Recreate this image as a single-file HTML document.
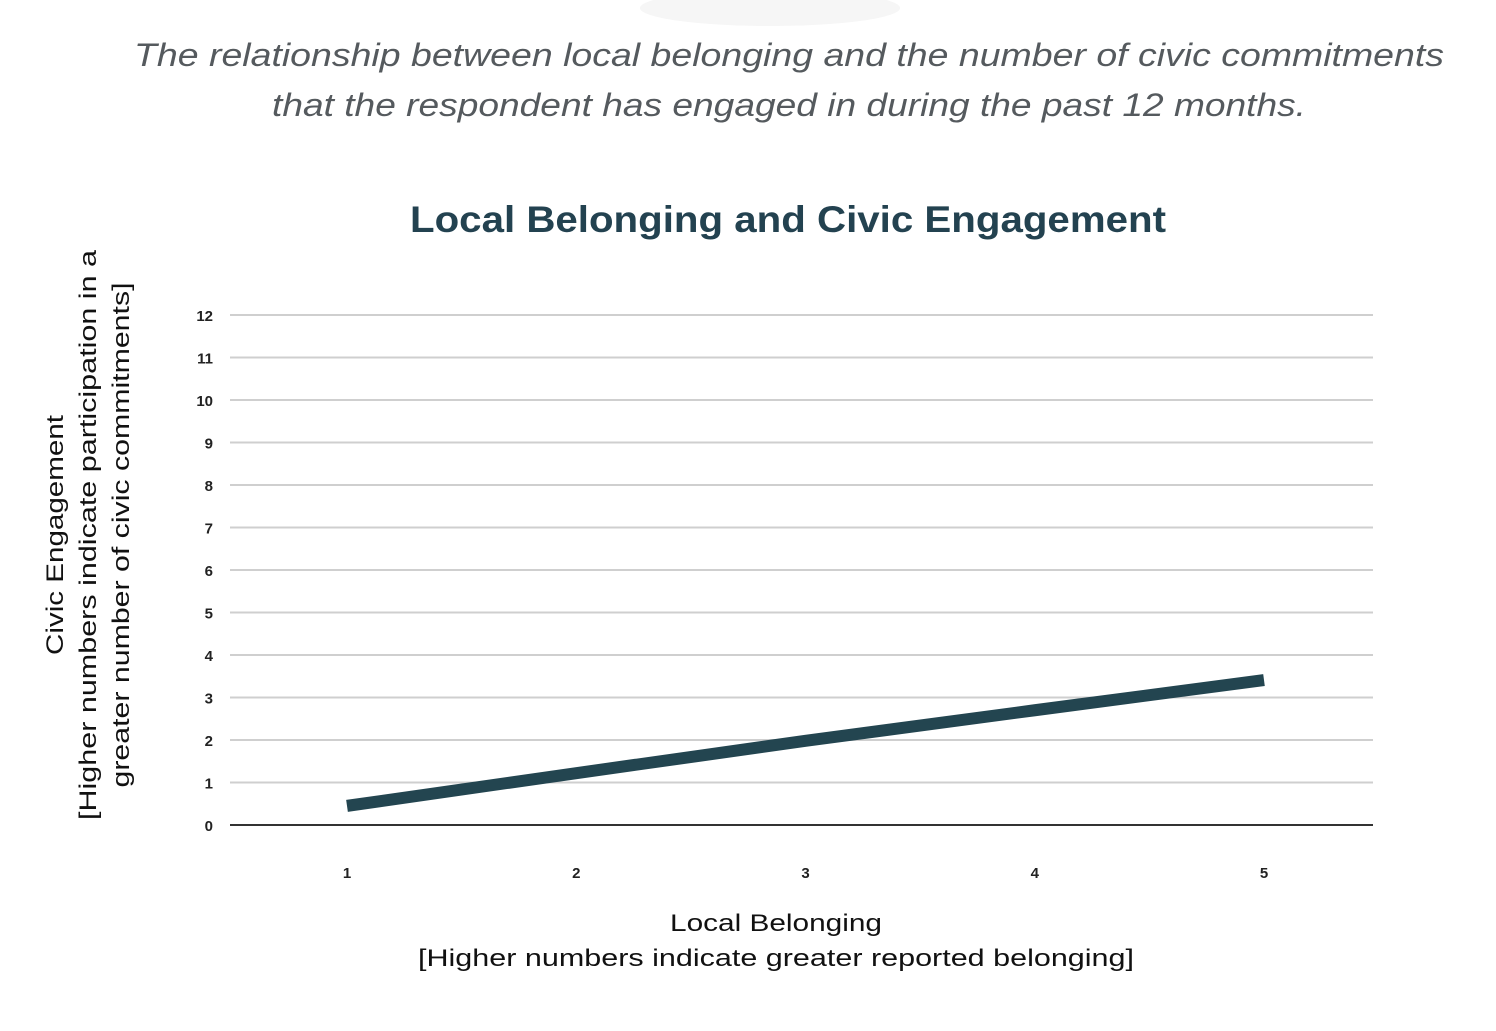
<!DOCTYPE html>
<html><head><meta charset="utf-8"><style>
body{margin:0;background:#fff;}
svg{display:block;font-family:"Liberation Sans",sans-serif;}
</style></head><body>
<svg width="1496" height="1031" viewBox="0 0 1496 1031">
<ellipse cx="770" cy="8" rx="130" ry="18" fill="#f6f6f6"/>
<text x="789" y="66" text-anchor="middle" font-size="32" font-style="italic" fill="#555a5e" textLength="1310" lengthAdjust="spacingAndGlyphs">The relationship between local belonging and the number of civic commitments</text>
<text x="789" y="116" text-anchor="middle" font-size="32" font-style="italic" fill="#555a5e" textLength="1034" lengthAdjust="spacingAndGlyphs">that the respondent has engaged in during the past 12 months.</text>
<text x="788" y="232" text-anchor="middle" font-size="37" font-weight="bold" fill="#234250" textLength="756" lengthAdjust="spacingAndGlyphs">Local Belonging and Civic Engagement</text>
<g id="grid"></g>
<g id="yticks"></g>
<g id="xticks"></g>
<g id="series"></g>
<g transform="translate(63,535) rotate(-90)">
<text x="0" y="0" text-anchor="middle" font-size="24" fill="#111" textLength="240" lengthAdjust="spacingAndGlyphs">Civic Engagement</text>
<text x="0" y="33" text-anchor="middle" font-size="24" fill="#111" textLength="570" lengthAdjust="spacingAndGlyphs">[Higher numbers indicate participation in a</text>
<text x="0" y="66" text-anchor="middle" font-size="24" fill="#111" textLength="505" lengthAdjust="spacingAndGlyphs">greater number of civic commitments]</text>
</g>
<text x="776" y="931" text-anchor="middle" font-size="24" fill="#111" textLength="212" lengthAdjust="spacingAndGlyphs">Local Belonging</text>
<text x="776" y="966" text-anchor="middle" font-size="24" fill="#111" textLength="716" lengthAdjust="spacingAndGlyphs">[Higher numbers indicate greater reported belonging]</text>
</svg>
<script>
const categories=[1,2,3,4,5];
const values=[0.45,1.22,1.98,2.7,3.41];
const yTicks=[0,1,2,3,4,5,6,7,8,9,10,11,12];
const NS="http://www.w3.org/2000/svg";
const X0=230,X1=1373,Y0=825,Y1=315;
function y(v){return Y0-(v-0)/(12-0)*(Y0-Y1);}
function x(c){return 347+(c-1)*229.25;}
function mk(t,a,p){const e=document.createElementNS(NS,t);for(const k in a)e.setAttribute(k,a[k]);document.getElementById(p).appendChild(e);return e;}
yTicks.forEach(v=>{
 const l=mk('line',{x1:X0,x2:X1,y1:y(v),y2:y(v),stroke:v===0?'#333':'#cfcfcf','stroke-width':v===0?2:2},'grid');
 
 
 const t=mk('text',{x:213,y:y(v)+6,'text-anchor':'end','font-size':15,'font-weight':'bold',fill:'#222'},'yticks');
 t.textContent=v;
 
 
});
categories.forEach(c=>{
 const t=mk('text',{x:x(c),y:878,'text-anchor':'middle','font-size':15,'font-weight':'bold',fill:'#222'},'xticks');
 t.textContent=c;
 
 
});
const pts=categories.map((c,i)=>x(c)+','+y(values[i])).join(' ');
const pl=mk('polyline',{points:pts,fill:'none',stroke:'#234550','stroke-width':12},'series');


</script>
</body></html>
